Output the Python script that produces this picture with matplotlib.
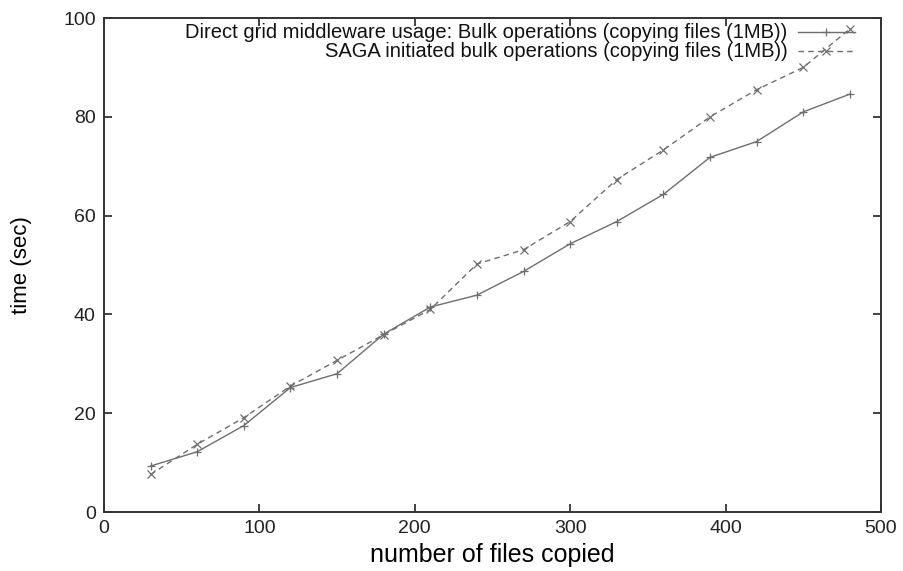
import numpy as np
import matplotlib
matplotlib.use('Agg')
import matplotlib.pyplot as plt
from matplotlib.lines import Line2D

plt.rcParams['font.family'] = ['Liberation Sans', 'DejaVu Sans']

# files copied
n_files = [30, 60, 90, 120, 150, 180, 210, 240, 270, 300, 330, 360, 390, 420, 450, 480]
# time (sec), direct grid middleware bulk operations
direct_time = [9.3, 12.2, 17.5, 25.2, 28.0, 36.0, 41.5, 43.9, 48.7, 54.3, 58.8, 64.3, 71.8, 75.0, 81.0, 84.6]
# time (sec), SAGA initiated bulk operations
saga_time = [7.6, 13.7, 19.1, 25.5, 30.7, 35.9, 41.0, 50.2, 53.1, 58.8, 67.3, 73.3, 80.0, 85.5, 90.0, 97.8]

labels = ['Direct grid middleware usage: Bulk operations (copying files (1MB))',
          'SAGA initiated bulk operations (copying files (1MB))']

line_col = '#6e6e6e'
dash = (0, (4, 3))

fig = plt.figure(figsize=(9.04, 5.71), dpi=100)
ax = fig.add_axes([0.115, 0.1033, 0.8595, 0.8651])

ax.plot(n_files, direct_time, color=line_col, lw=1.0, ls='-',
        marker='+', ms=6, mew=0.9)
ax.plot(n_files, saga_time, color=line_col, lw=1.0, ls=dash,
        marker='x', ms=5.5, mew=0.9)

ax.set_xlim(0, 500)
ax.set_ylim(0, 100)
ax.set_xticks(np.arange(0, 501, 100))
ax.set_yticks(np.arange(0, 101, 20))
ax.tick_params(direction='in', top=True, right=True, length=6, width=1.2,
               labelsize=14, pad=6, colors='#222222')
for s in ax.spines.values():
    s.set_linewidth(1.4)
    s.set_color('#333333')

ax.set_xlabel('number of files copied', fontsize=18, labelpad=4)
ax.set_ylabel('time (sec)', fontsize=16, labelpad=22)

# gnuplot-style key: right-aligned text, sample line to the right
key_rows = [(0.9717, '-', '+', 6), (0.9332, dash, 'x', 5.5)]
for (yk, ls, mk, ms), lab in zip(key_rows, labels):
    ax.text(0.880, yk, lab, transform=ax.transAxes, ha='right', va='center',
            fontsize=14.5, color='#111111')
    ax.add_line(Line2D([0.893, 0.966], [yk, yk], transform=ax.transAxes,
                       color=line_col, lw=1.0, ls=ls))
    ax.add_line(Line2D([0.9295], [yk], transform=ax.transAxes,
                       color=line_col, marker=mk, ms=ms, mew=0.9, ls='none'))

fig.savefig('out.png', dpi=100)
